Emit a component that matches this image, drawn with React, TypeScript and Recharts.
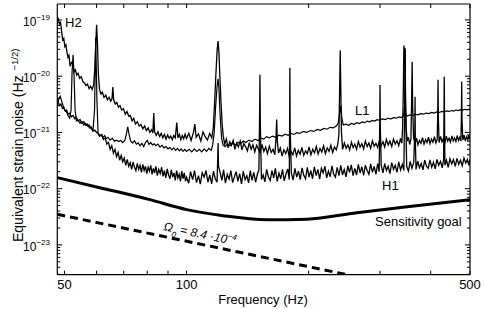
import React from 'react';
import { LineChart, Line, XAxis, YAxis } from 'recharts';

// unit for all strain values below: 1e-22 Hz^-1/2
const UNIT = 1e-22;

const xTicks = [50, 60, 70, 80, 90, 100, 200, 300, 400, 500];
const xTickLabels = [50, 100, 500];
const yDecades = [-24, -23, -22, -21, -20, -19];
const yLabelExps = [-23, -22, -21, -20, -19];
const xDomain = [48, 500];
const yDomain = [2.95e-24, 1.92e-19];

// [frequency Hz, strain in 1e-22]
const h2Noise: [number, number][] = [
  [48.0, 1000], [48.3, 1050], [48.6, 850], [48.9, 900], [49.2, 620], [49.5, 440], [49.8, 470], [50.1, 335],
  [50.4, 360], [50.7, 270], [51.0, 215], [51.3, 235], [51.6, 150], [52.0, 175], [52.4, 160], [52.8, 120],
  [53.2, 130], [53.6, 105], [54.0, 112], [54.5, 92], [55.0, 98], [55.5, 80], [56.0, 76], [56.5, 68],
  [57.0, 72], [57.5, 60], [58.0, 66], [58.5, 58], [59.0, 70], [59.4, 140], [59.75, 400], [60.0, 820],
  [60.3, 380], [60.6, 110], [61.0, 58], [61.5, 48], [62.0, 52], [62.6, 42], [63.2, 46], [63.8, 38],
  [64.4, 42], [65.0, 36], [65.5, 40], [65.8, 64], [66.1, 38], [66.7, 32], [67.3, 34], [67.9, 28],
  [68.5, 30], [69.2, 25], [69.9, 26.5], [70.6, 21], [71.3, 23.5], [72.0, 19.5], [72.7, 20], [73.4, 16],
  [74.1, 17.8], [74.8, 14.2], [75.6, 15.5], [76.4, 13], [77.2, 13.8], [78.0, 11.6], [78.8, 13], [79.6, 10.8],
  [80.4, 12], [81.2, 10], [82.0, 11.2], [82.6, 9.8], [83.0, 22], [83.4, 10.2], [84.2, 8.9], [85.0, 10.3],
  [85.8, 8.4], [86.6, 9.6], [87.4, 8.0], [88.2, 9.2], [89.0, 7.6], [89.8, 9.0], [90.6, 7.9], [91.4, 8.6],
  [92.2, 7.4], [93.0, 8.8], [93.8, 8], [94.6, 15], [95.2, 8], [96.0, 9.2], [96.8, 7.4], [97.6, 8.8],
  [98.4, 7.7], [99.2, 9.3], [100, 7.8], [101.3, 9.6], [102.6, 7.2], [104, 10], [104.8, 14], [105.6, 8.2],
  [107, 9.4], [108.4, 7.0], [109.8, 10.2], [111.2, 8.4], [112.6, 7.3], [114, 9.6], [115.4, 8], [116.4, 12],
  [117.4, 40], [118.2, 120], [119, 300], [119.6, 420], [120.2, 260], [120.8, 100], [121.6, 35], [122.4, 14],
  [123.2, 8.5], [124.2, 6.2], [125.4, 7.6], [126.6, 5.3], [127.8, 6.8], [129, 5.9], [130.3, 7.2], [131.6, 5.0],
  [132.9, 6.4], [134.2, 5.5], [135.6, 7.0], [137, 4.9], [138.4, 6.3], [139.8, 5.6], [141.3, 4.7], [142.8, 6.6],
  [144.3, 5.0], [145.8, 6.0], [147.3, 4.5], [148.8, 5.9], [150.3, 5.1], [151.9, 4.4], [153.5, 6.1], [155.1, 4.6],
  [156.7, 5.5], [158.3, 4.2], [160, 5.7], [161.7, 4.4], [163.4, 5.0], [165.1, 4.0], [166.2, 8], [166.8, 17],
  [167.4, 7], [168.6, 4.3], [170.3, 5.3], [172, 3.8], [173.8, 4.9], [175.6, 4.2], [177.4, 5.2], [179.2, 3.7],
  [181, 4.6], [182.9, 4.0], [184.8, 5.3], [186.7, 3.8], [188.6, 4.8], [190.5, 4.1], [192.5, 5.4], [194.5, 3.9],
  [196.5, 4.7], [198.5, 4.2], [200.5, 5.5], [202.6, 4.0], [204.7, 5.0], [206.8, 4.3], [208.9, 5.6], [211.1, 4.1],
  [213.3, 5.2], [215.5, 4.5], [217.7, 5.8], [220, 4.2], [222.3, 5.3], [224.6, 4.6], [226.9, 5.9], [229.2, 4.4],
  [231.6, 5.5], [234, 4.9], [236, 6.2], [237.5, 9], [238.5, 60], [239.3, 290], [240, 70], [241, 10],
  [242.5, 5.0], [245, 6.5], [247.5, 5.2], [250, 6.0], [252.5, 4.9], [255, 6.7], [257.5, 5.4], [260, 6.2],
  [262.6, 5.0], [265.2, 6.9], [267.9, 5.5], [270.6, 6.3], [273.3, 5.1], [276, 7.0], [278.8, 5.6], [281.6, 6.5],
  [284.4, 5.2], [287.3, 7.1], [290.2, 5.7], [293.1, 6.4], [296, 5.4], [299, 7.2], [302, 5.8], [305, 6.8],
  [308, 5.5], [311, 7.5], [314.2, 6.0], [317.4, 7.0], [320.6, 5.6], [323.8, 7.6], [327, 6.2], [330.3, 7.1],
  [333.6, 5.8], [337, 7.8], [339.5, 6.4], [341, 12], [342.5, 60], [343.5, 350], [344.5, 200], [345.5, 320],
  [346.5, 40], [348, 12], [350, 7], [352.5, 8.2], [355, 6.1], [357.5, 7.6], [359, 40], [360, 180],
  [361, 30], [363, 8], [366, 6.3], [369, 7.9], [372, 6.0], [375.2, 7.2], [378.5, 6.4], [381.8, 8.1],
  [385.1, 6.2], [388.4, 7.5], [391.7, 6.6], [395, 8.2], [398.4, 6.3], [401.8, 7.6], [405.2, 6.7], [408.6, 8.4],
  [412, 6.5], [415, 7.5], [416.2, 20], [417, 86], [417.8, 18], [419.5, 6.6], [423, 8.5], [426.5, 6.8],
  [430, 7.8], [433.5, 6.5], [437, 8.6], [440.5, 7.0], [444, 7.9], [447.5, 6.7], [451, 8.7], [454.5, 7.1],
  [458, 8.0], [461.5, 6.9], [465, 8.8], [468.5, 7.2], [472, 8.2], [475, 7.0], [476.2, 20], [477, 80],
  [477.8, 18], [480, 7.3], [483.5, 8.9], [487, 7.0], [490.5, 8.4], [494, 7.4], [497, 9.0], [500, 7.6],
];

const l1Noise: [number, number][] = [
  [48, 30], [48.4, 40], [48.8, 44], [49.2, 36], [49.6, 30], [50, 25], [50.5, 24], [51, 20],
  [51.5, 18], [51.9, 25], [52.2, 120], [52.5, 240], [52.8, 100], [53.1, 25], [53.5, 16], [54, 16.5],
  [54.6, 14.5], [55.2, 15.5], [55.8, 13.5], [56.4, 14.5], [57, 13], [57.6, 13.5], [58.2, 11.5], [58.8, 11],
  [59.3, 25], [59.7, 480], [60.1, 40], [60.5, 9.5], [61, 8.5], [61.6, 9], [62.2, 8], [62.8, 8.8],
  [63.4, 7.8], [64, 8.2], [64.8, 7.3], [65.6, 7.9], [66.4, 7.0], [67.2, 7.3], [68, 6.9], [68.8, 7.2],
  [69.6, 6.6], [70.4, 7.2], [71.0, 9], [71.6, 12.5], [72.2, 9], [72.8, 7], [73.6, 6.5], [74.4, 7.1],
  [75.2, 6.2], [76, 6.5], [76.8, 5.8], [77.6, 6.4], [78.4, 5.6], [79.2, 6.6], [80, 7.2], [80.8, 6.1],
  [81.6, 6.6], [82.4, 6.0], [83.2, 6.3], [84, 5.8], [85, 6.2], [86, 5.5], [87, 5.9], [88, 5.3],
  [89, 5.6], [90, 5.1], [91, 5.4], [92, 4.9], [93, 5.3], [94, 4.8], [95, 5.2], [96, 4.7],
  [97, 5.1], [98, 4.6], [99, 5.0], [100, 4.6], [101.5, 5.0], [103, 4.5], [104.5, 5.1], [106, 4.6],
  [107.5, 5.0], [109, 4.5], [110.5, 5.1], [112, 4.6], [113.5, 5.2], [115, 4.8], [116, 6], [117, 10],
  [118, 30], [119, 70], [119.6, 90], [120.2, 60], [121, 20], [122, 8], [123, 6], [124.5, 5.6],
  [126, 6.2], [128, 5.8], [130, 6.4], [132, 6.0], [134, 6.7], [136, 6.3], [138, 7.0], [140, 6.6],
  [142.5, 7.3], [145, 6.9], [147.5, 7.6], [150, 7.2], [152.5, 7.9], [155, 7.6], [157.5, 8.4], [160, 8.0],
  [163, 8.6], [166, 8.2], [169, 8.9], [172, 8.6], [175, 9.3], [178, 8.9], [181, 9.6], [184, 9.2],
  [187, 9.9], [190, 9.6], [194, 10.4], [198, 10], [202, 10.8], [206, 10.4], [210, 11.3], [214, 10.9],
  [218, 11.8], [222, 11.4], [226, 12.3], [230, 12], [234, 13], [236.5, 14.5], [238.5, 22], [240, 30],
  [241.5, 18], [243.5, 13.5], [247, 14], [251, 13.4], [255, 14.4], [259, 13.9], [263, 14.9], [267, 14.4],
  [271, 15.4], [275, 14.9], [279, 15.9], [283, 15.4], [287, 16.3], [291, 15.9], [295, 16.8], [299, 16.4],
  [304, 17.4], [309, 16.9], [314, 17.8], [319, 17.4], [324, 18.3], [329, 17.9], [334, 18.8], [339, 18.4],
  [343, 20], [345, 30], [347, 22], [350, 19.4], [355, 20.4], [360, 19.9], [366, 21], [372, 20.5],
  [378, 21.6], [384, 21.1], [390, 22.1], [396, 21.6], [402, 22.6], [408, 22.1], [414, 23.1], [420, 22.6],
  [426, 23.6], [432, 23.1], [438, 24.1], [444, 23.6], [450, 24.5], [456, 24.0], [462, 25], [468, 24.5],
  [474, 25.4], [480, 24.9], [486, 25.8], [492, 25.2], [500, 26],
];

const h1Noise: [number, number][] = [
  [48, 40], [48.3, 34], [48.6, 30], [49.0, 32], [49.4, 27], [49.8, 28], [50.2, 24], [50.6, 25],
  [51, 21], [51.5, 22], [52, 19], [52.5, 20], [53, 17.5], [53.5, 18.5], [54, 16], [54.6, 17],
  [55.2, 14.5], [55.8, 15.5], [56.4, 13.5], [57, 14], [57.6, 12], [58.2, 12.5], [58.8, 10.5], [59.4, 11],
  [60, 10], [60.6, 9.5], [61.2, 8.8], [61.8, 9.2], [62.4, 7.5], [63, 8], [63.6, 6.2], [64.2, 6.6],
  [64.8, 5.0], [65.4, 5.8], [66, 4.3], [66.6, 5.0], [67.2, 3.7], [67.8, 4.4], [68.4, 3.2], [69, 3.9],
  [69.6, 3.0], [70.2, 3.5], [70.8, 2.6], [71.4, 3.3], [72, 2.5], [72.6, 2.9], [73.2, 2.2], [73.8, 3.0],
  [74.4, 2.4], [75, 2.1], [75.6, 2.8], [76.2, 2.2], [76.8, 2.6], [77.4, 1.95], [78, 2.7], [78.6, 2.1],
  [79.2, 2.5], [79.8, 1.85], [80.4, 2.4], [81, 2.05], [81.6, 2.6], [82.2, 1.8], [82.8, 2.3], [83.4, 1.9],
  [84, 2.5], [84.7, 1.7], [85.4, 2.2], [86.1, 1.85], [86.8, 2.4], [87.5, 1.65], [88.2, 2.1], [88.9, 1.55],
  [89.6, 2.25], [90.3, 1.75], [91, 1.5], [91.7, 2.15], [92.4, 1.6], [93.1, 1.9], [93.8, 1.4], [94.5, 2.1],
  [95.2, 1.55], [95.9, 1.8], [96.6, 1.35], [97.3, 2.05], [98, 1.5], [98.7, 1.9], [99.4, 1.35], [100, 1.6],
  [101.2, 1.25], [102.3, 2.0], [103.5, 1.45], [104.6, 2.1], [105.8, 1.28], [107, 1.7], [108.1, 1.2], [109.3, 1.92],
  [110.5, 1.6], [111.7, 2.1], [112.9, 1.3], [114.1, 1.75], [115.3, 1.22], [116.5, 2.05], [117.7, 1.5], [118.9, 1.3],
  [119.3, 3], [119.6, 6.5], [119.9, 2.5], [121, 1.95], [122.2, 1.4], [123.4, 2.15], [124.7, 1.25], [126, 1.8],
  [127.3, 1.48], [128.6, 2.1], [129.9, 1.28], [131.2, 1.62], [132.5, 2.0], [133.8, 1.35], [135.2, 1.85], [136.6, 1.22],
  [138, 2.05], [139.4, 1.45], [140.8, 1.7], [142.2, 1.27], [143.6, 2.1], [145, 1.4], [146.5, 1.95], [148, 1.3],
  [149.5, 1.8], [150.8, 2.15], [151.4, 20], [151.7, 106], [152, 15], [153, 1.45], [154.5, 1.75], [156, 1.32],
  [157.6, 2.2], [159.2, 1.6], [160.8, 1.4], [162.4, 2.1], [164, 1.55], [165.6, 2.3], [167.3, 1.35], [169, 1.9],
  [170.7, 1.5], [172.4, 2.2], [174.1, 1.38], [175.8, 1.8], [177.6, 2.25], [179.2, 1.45], [179.6, 20], [179.8, 141],
  [180.1, 12], [181.3, 1.9], [183.1, 1.42], [185, 2.3], [186.9, 1.6], [188.8, 2.05], [190.7, 1.45], [192.6, 2.35],
  [194.5, 1.75], [196.5, 1.5], [198.5, 2.4], [200.5, 1.6], [202.5, 2.1], [204.5, 1.5], [206.6, 2.45], [208.7, 1.7],
  [210.8, 2.2], [212.9, 1.48], [215, 2.3], [217.2, 1.9], [219.4, 2.5], [221.6, 1.55], [223.8, 2.05], [226, 1.62],
  [228.3, 2.55], [230.6, 1.8], [232.9, 1.6], [235.2, 2.4], [237.6, 1.7], [240, 2.6], [242.4, 1.75], [244.8, 2.2],
  [247.3, 1.62], [249.8, 2.55], [252.3, 1.95], [254.8, 2.65], [257.4, 1.7], [260, 2.3], [262.6, 1.75], [265.2, 2.7],
  [267.9, 1.9], [270.6, 2.45], [273.3, 1.72], [276, 2.6], [278.8, 2.1], [281.6, 1.8], [284.4, 2.75], [287.3, 1.95],
  [290.2, 2.5], [293.1, 1.8], [296, 2.8], [298.5, 2.0], [299.5, 15], [300, 70], [300.5, 12], [302, 2.6],
  [305, 1.9], [308, 2.8], [311, 2.1], [314.2, 2.5], [317.4, 1.85], [320.6, 2.9], [323.8, 2.2], [327, 2.6],
  [330.3, 1.95], [333.6, 3.0], [337, 2.15], [340.4, 2.7], [343.5, 2.1], [345, 30], [346, 300], [347, 25],
  [349, 2.5], [352.5, 2.05], [356, 3.05], [359.6, 2.3], [363.2, 2.9], [365.5, 10], [366, 43], [366.5, 8],
  [368, 2.2], [371.5, 3.1], [375.2, 2.35], [379, 2.8], [382.8, 2.15], [386.6, 3.2], [390.5, 2.5], [394.4, 2.3],
  [398.3, 3.25], [402.3, 2.4], [406.3, 2.95], [410.4, 2.25], [414.5, 3.3], [418.6, 2.6], [422.8, 3.05], [427, 2.35],
  [430.5, 3.35], [432, 98], [433.5, 2.6], [437.5, 3.2], [441.8, 2.4], [446.2, 3.4], [450.7, 2.75], [455.2, 3.3],
  [459.8, 2.5], [464.4, 3.45], [469, 2.7], [473.7, 3.2], [478.4, 2.55], [483.2, 3.5], [488, 2.85], [492.9, 3.3],
  [497, 2.6], [500, 3.3],
];

const sensitivityGoal: [number, number][] = [
  [48, 1.57], [61.1, 1.04], [81.2, 0.637], [100, 0.424], [123, 0.331], [158, 0.281],
  [198, 0.287], [263, 0.373], [350, 0.477], [500, 0.637],
];

const omegaBound: [number, number][] = [
  [48, 0.35], [246, 0.03],
];

const toRows = (s: [number, number][]) => s.map(([f, u]) => ({ f, h: u * UNIT }));

const yTicks: number[] = [];
yDecades.forEach((e) => {
  for (let k = 1; k <= 9; k++) {
    const v = k * Math.pow(10, e);
    if (v >= yDomain[0] && v <= yDomain[1]) yTicks.push(v);
  }
});

const FONT = '"Liberation Sans", Arial, Helvetica, sans-serif';

const isMajorY = (v: number) => {
  const l = Math.log10(v);
  return Math.abs(l - Math.round(l)) < 1e-6;
};

const BottomTick = (props: any) => {
  const { x, y, payload } = props;
  const v = payload.value;
  return (
    <g>
      <line x1={x} y1={y} x2={x} y2={y - 4} stroke="#000" strokeWidth={1} />
      {xTickLabels.includes(v) && (
        <text x={x} y={y + 14.6} textAnchor="middle" fontSize={13} fontFamily={FONT} fill="#000">
          {v}
        </text>
      )}
    </g>
  );
};

const TopTick = (props: any) => {
  const { x, y } = props;
  return <line x1={x} y1={y} x2={x} y2={y + 4} stroke="#000" strokeWidth={1} />;
};

const LeftTick = (props: any) => {
  const { x, y, payload } = props;
  const v = payload.value;
  const major = isMajorY(v);
  const exp = Math.round(Math.log10(v));
  return (
    <g>
      <line x1={x} y1={y} x2={x + (major ? 5 : 3)} y2={y} stroke="#000" strokeWidth={1} />
      {major && yLabelExps.includes(exp) && (
        <text x={x - 7.3} y={y + 5.8} textAnchor="end" fontSize={12} fontFamily={FONT} fill="#000">
          10
          <tspan dy={-6} fontSize={8}>{'\u2212' + Math.abs(exp)}</tspan>
        </text>
      )}
    </g>
  );
};

const RightTick = (props: any) => {
  const { x, y, payload } = props;
  const major = isMajorY(payload.value);
  return <line x1={x} y1={y} x2={x - (major ? 5 : 3)} y2={y} stroke="#000" strokeWidth={1} />;
};

export default function App() {
  return (
    <div style={{ position: 'absolute', left: 0, top: 0, width: 485, height: 309, background: '#fff' }}>
      <LineChart
        width={485}
        height={309}
        margin={{ top: 3, right: 14, bottom: 33.3, left: 56.3 }}
      >
        <XAxis
          dataKey="f"
          type="number"
          scale="log"
          domain={xDomain}
          allowDataOverflow
          ticks={xTicks}
          interval={0}
          height={1}
          tickSize={0}
          tickMargin={0}
          tickLine={false}
          tick={(p: any) => <BottomTick {...p} />}
          axisLine={{ stroke: '#000', strokeWidth: 1.2 }}
        />
        <XAxis
          xAxisId="top"
          orientation="top"
          dataKey="f"
          type="number"
          scale="log"
          domain={xDomain}
          allowDataOverflow
          ticks={xTicks}
          interval={0}
          height={1}
          tickSize={0}
          tickMargin={0}
          tickLine={false}
          tick={(p: any) => <TopTick {...p} />}
          axisLine={{ stroke: '#000', strokeWidth: 1.2 }}
        />
        <YAxis
          type="number"
          scale="log"
          domain={yDomain}
          allowDataOverflow
          ticks={yTicks}
          interval={0}
          width={1}
          tickSize={0}
          tickMargin={0}
          tickLine={false}
          tick={(p: any) => <LeftTick {...p} />}
          axisLine={{ stroke: '#000', strokeWidth: 1.2 }}
        />
        <YAxis
          yAxisId="right"
          orientation="right"
          type="number"
          scale="log"
          domain={yDomain}
          allowDataOverflow
          ticks={yTicks}
          interval={0}
          width={1}
          tickSize={0}
          tickMargin={0}
          tickLine={false}
          tick={(p: any) => <RightTick {...p} />}
          axisLine={{ stroke: '#000', strokeWidth: 1.2 }}
        />
        <Line data={toRows(h2Noise)} dataKey="h" stroke="#000" strokeWidth={1.3} dot={false} isAnimationActive={false} type="linear" />
        <Line data={toRows(l1Noise)} dataKey="h" stroke="#000" strokeWidth={1.2} dot={false} isAnimationActive={false} type="linear" />
        <Line data={toRows(h1Noise)} dataKey="h" stroke="#000" strokeWidth={1.3} dot={false} isAnimationActive={false} type="linear" />
        <Line data={toRows(sensitivityGoal)} dataKey="h" stroke="#000" strokeWidth={3} dot={false} isAnimationActive={false} type="monotone" />
        <Line data={toRows(omegaBound)} dataKey="h" stroke="#000" strokeWidth={3} strokeDasharray="8 5" dot={false} isAnimationActive={false} type="linear" />
      </LineChart>
      <svg
        width={485}
        height={309}
        style={{ position: 'absolute', left: 0, top: 0, pointerEvents: 'none' }}
        fontFamily={FONT}
      >
        <text x={65} y={27} fontSize={13} fill="#000">H2</text>
        <text x={355} y={115} fontSize={13} fill="#000">L1</text>
        <text x={382} y={190} fontSize={13} fill="#000">H1</text>
        <text x={375} y={226} fontSize={13} fill="#000">Sensitivity goal</text>
        <text x={263} y={304} fontSize={13} fill="#000" textAnchor="middle">Frequency (Hz)</text>
        <text x={22.5} y={242} fontSize={14} fill="#000" transform="rotate(-90, 22.5, 242)">
          Equivalent strain noise (Hz
          <tspan dx={5} dy={-5} fontSize={9.5}>{'\u22121/2)'}</tspan>
        </text>
        <text x={163} y={230} fontSize={12} fill="#000" fontStyle="italic" transform="rotate(12, 163, 230)">
          {'\u03A9'}
          <tspan dy={5} fontSize={8}>0</tspan>
          <tspan dy={-5}>{' = 8.4 \u00B710'}</tspan>
          <tspan dy={-5} fontSize={8}>{'\u22124'}</tspan>
        </text>
      </svg>
    </div>
  );
}
